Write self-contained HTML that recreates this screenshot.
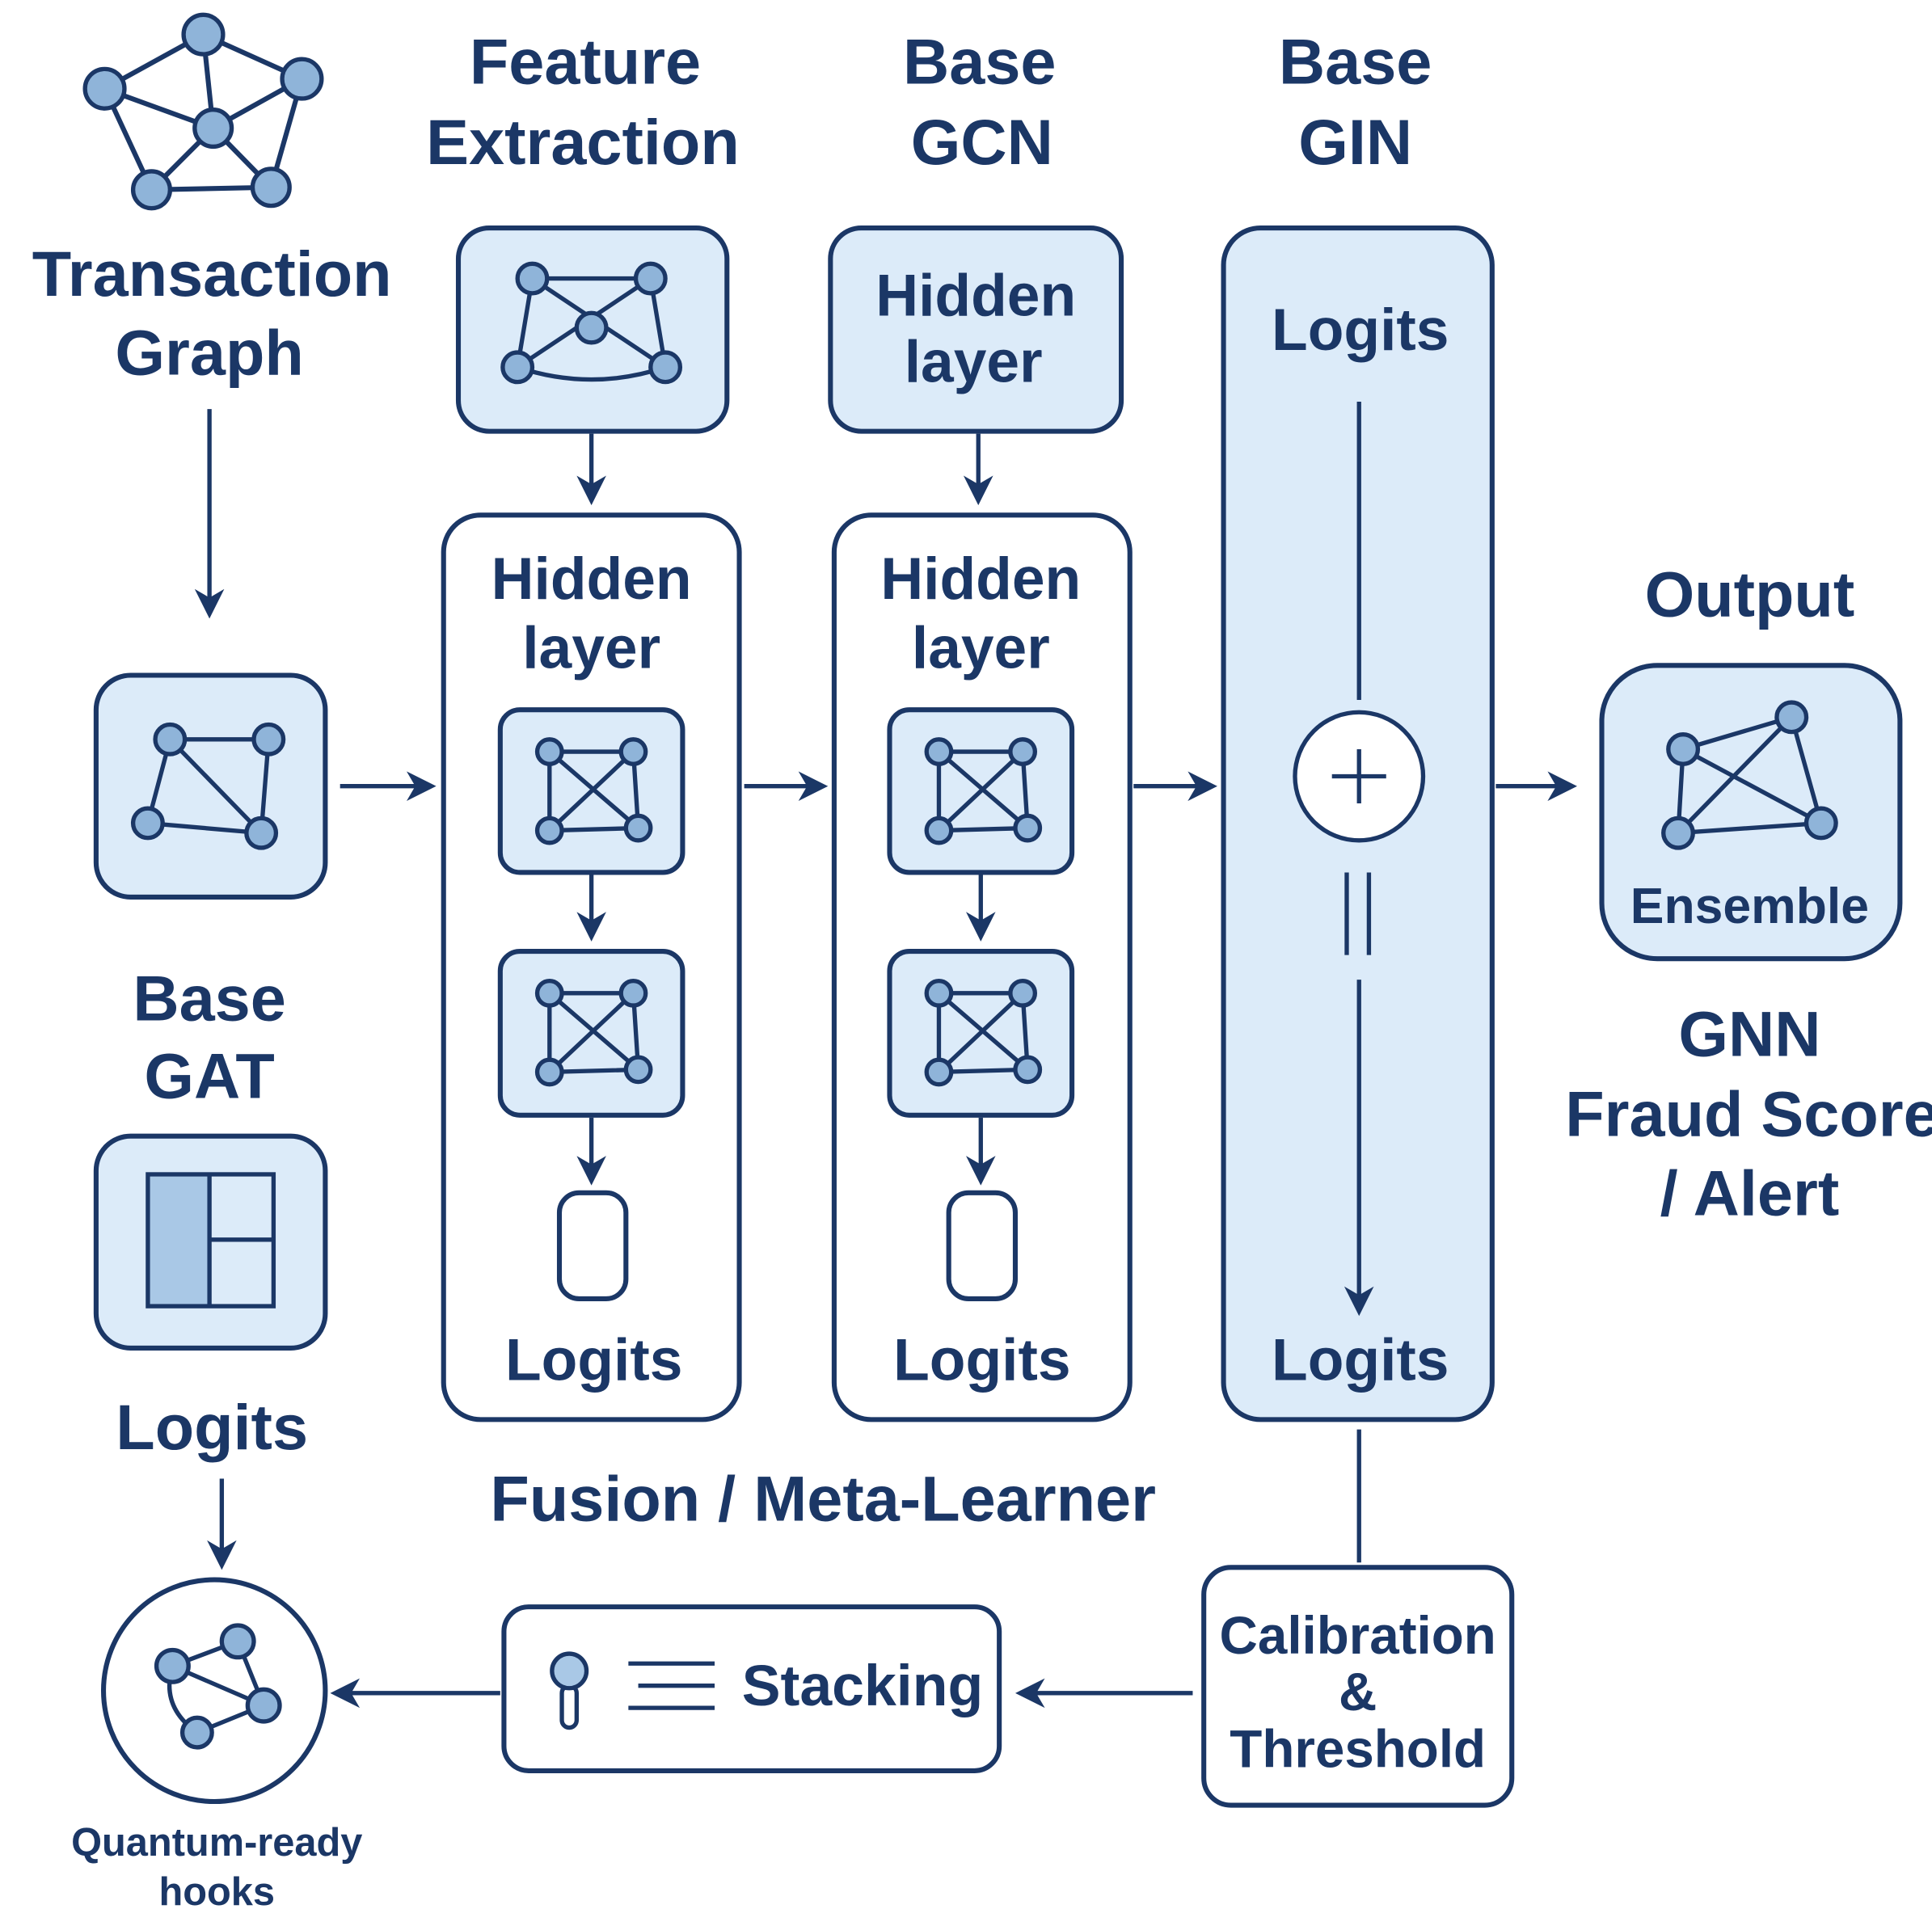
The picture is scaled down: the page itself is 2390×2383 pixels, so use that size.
<!DOCTYPE html>
<html><head><meta charset="utf-8"><style>html,body{margin:0;padding:0;background:#fff}svg{display:block}</style></head>
<body>
<svg width="2390" height="2383" viewBox="0 0 1568 1563" preserveAspectRatio="none" xmlns="http://www.w3.org/2000/svg" font-family="Liberation Sans, sans-serif" fill="#1b3766">
<defs>
<marker id="b" markerWidth="24" markerHeight="24" refX="20" refY="12" orient="auto" markerUnits="userSpaceOnUse" viewBox="0 0 24 24"><path d="M0,0 L24,12 L0,24 L7,12 z" fill="#1b3766"/></marker>
</defs>
<g stroke="#1b3766" stroke-width="4" fill="none">
<g stroke-width="4">
<line x1="165" y1="28" x2="85" y2="72"/><line x1="165" y1="28" x2="245" y2="64"/><line x1="165" y1="28" x2="173" y2="104"/>
<line x1="85" y1="72" x2="123" y2="154"/><line x1="245" y1="64" x2="220" y2="152"/><line x1="123" y1="154" x2="220" y2="152"/>
<line x1="173" y1="104" x2="123" y2="154"/><line x1="173" y1="104" x2="220" y2="152"/><line x1="85" y1="72" x2="173" y2="104"/><line x1="245" y1="64" x2="173" y2="104"/>
</g>
<line x1="170" y1="332" x2="170" y2="498" stroke-width="3.5" marker-end="url(#b)"/>
<rect x="78" y="548" width="186" height="180" rx="28" fill="#dcebf9"/>
<path d="M138,600 L218,600 L212,676 L120,668 Z M138,600 L212,676" stroke-width="3.5"/>
<rect x="78" y="922" width="186" height="172" rx="28" fill="#dcebf9"/>
<rect x="120" y="953" width="50" height="107" fill="#a9c8e6" stroke="none"/>
<rect x="120" y="953" width="102" height="107" stroke-width="3.5"/>
<line x1="170" y1="953" x2="170" y2="1060" stroke-width="3.5"/><line x1="170" y1="1006" x2="222" y2="1006" stroke-width="3.5"/>
<line x1="180" y1="1200" x2="180" y2="1270" stroke-width="3.5" marker-end="url(#b)"/>
<circle cx="174" cy="1372" r="90" fill="#fff"/>
<path d="M140,1352 L193,1332 L214,1384 L160,1406 Q130,1385 140,1352 M140,1352 L214,1384" stroke-width="3.5"/>

<rect x="372" y="185" width="218" height="165" rx="25" fill="#dcebf9"/>
<path d="M432,226 L528,226 L540,298 Q480,318 420,298 Z M432,226 L540,298 M528,226 L420,298" stroke-width="3.5"/>
<line x1="480" y1="352" x2="480" y2="406" stroke-width="3.5" marker-end="url(#b)"/>
<rect x="360" y="418" width="240" height="734" rx="30" fill="#fff"/>
<rect x="406" y="576" width="148" height="132" rx="16" fill="#dcebf9"/>
<path d="M446,610 L514,610 L518,672 L446,674 Z M446,610 L518,672 M514,610 L446,674" stroke-width="3.5"/>
<line x1="480" y1="710" x2="480" y2="760" stroke-width="3.5" marker-end="url(#b)"/>
<rect x="406" y="772" width="148" height="133" rx="16" fill="#dcebf9"/>
<path d="M446,806 L514,806 L518,868 L446,870 Z M446,806 L518,868 M514,806 L446,870" stroke-width="3.5"/>
<line x1="480" y1="907" x2="480" y2="958" stroke-width="3.5" marker-end="url(#b)"/>
<rect x="454" y="968" width="54" height="86" rx="16" fill="#fff"/>

<rect x="674" y="185" width="236" height="165" rx="25" fill="#dcebf9"/>
<line x1="794" y1="352" x2="794" y2="406" stroke-width="3.5" marker-end="url(#b)"/>
<rect x="677" y="418" width="240" height="734" rx="30" fill="#fff"/>
<rect x="722" y="576" width="148" height="132" rx="16" fill="#dcebf9"/>
<path d="M762,610 L830,610 L834,672 L762,674 Z M762,610 L834,672 M830,610 L762,674" stroke-width="3.5"/>
<line x1="796" y1="710" x2="796" y2="760" stroke-width="3.5" marker-end="url(#b)"/>
<rect x="722" y="772" width="148" height="133" rx="16" fill="#dcebf9"/>
<path d="M762,806 L830,806 L834,868 L762,870 Z M762,806 L834,868 M830,806 L762,870" stroke-width="3.5"/>
<line x1="796" y1="907" x2="796" y2="958" stroke-width="3.5" marker-end="url(#b)"/>
<rect x="770" y="968" width="54" height="86" rx="16" fill="#fff"/>

<rect x="993" y="185" width="218" height="967" rx="30" fill="#dcebf9"/>
<line x1="1103" y1="326" x2="1103" y2="568" stroke-width="3.5"/>
<circle cx="1103" cy="630" r="52" fill="#fff" stroke-width="3.5"/>
<line x1="1103" y1="608" x2="1103" y2="652" stroke-width="3.5"/><line x1="1081" y1="630" x2="1125" y2="630" stroke-width="3.5"/>
<line x1="1093" y1="708" x2="1093" y2="775" stroke-width="3.5"/><line x1="1111" y1="708" x2="1111" y2="775" stroke-width="3.5"/>
<line x1="1103" y1="795" x2="1103" y2="1064" stroke-width="3.5" marker-end="url(#b)"/>

<line x1="276" y1="638" x2="350" y2="638" stroke-width="3.5" marker-end="url(#b)"/>
<line x1="604" y1="638" x2="668" y2="638" stroke-width="3.5" marker-end="url(#b)"/>
<line x1="920" y1="638" x2="984" y2="638" stroke-width="3.5" marker-end="url(#b)"/>
<line x1="1214" y1="638" x2="1276" y2="638" stroke-width="3.5" marker-end="url(#b)"/>

<rect x="1300" y="540" width="242" height="238" rx="45" fill="#dcebf9"/>
<path d="M1366,608 L1454,582 L1478,668 L1362,676 Z M1366,608 L1478,668 M1454,582 L1362,676" stroke-width="3.5"/>

<line x1="1103" y1="1160" x2="1103" y2="1268" stroke-width="3.5"/>
<rect x="977" y="1272" width="250" height="193" rx="22" fill="#fff"/>
<line x1="968" y1="1374" x2="828" y2="1374" stroke-width="3.5" marker-end="url(#b)"/>
<rect x="409" y="1304" width="402" height="133" rx="20" fill="#fff"/>
<line x1="406" y1="1374" x2="272" y2="1374" stroke-width="3.5" marker-end="url(#b)"/>
<rect x="456" y="1368" width="12" height="34" rx="6" stroke-width="3.5"/>
<circle cx="462" cy="1356" r="14" fill="#a9c8e6" stroke-width="3.5"/>
<line x1="510" y1="1350" x2="580" y2="1350" stroke-width="3.5"/>
<line x1="518" y1="1368" x2="580" y2="1368" stroke-width="3.5"/>
<line x1="510" y1="1386" x2="580" y2="1386" stroke-width="3.5"/>
</g>

<g fill="#8fb4d9" stroke="#1b3766" stroke-width="3.5">
<circle cx="165" cy="28" r="16"/><circle cx="85" cy="72" r="16"/><circle cx="245" cy="64" r="16"/><circle cx="173" cy="104" r="15"/><circle cx="123" cy="154" r="15"/><circle cx="220" cy="152" r="15"/>
<circle cx="138" cy="600" r="12"/><circle cx="218" cy="600" r="12"/><circle cx="120" cy="668" r="12"/><circle cx="212" cy="676" r="12"/>
<circle cx="140" cy="1352" r="13"/><circle cx="193" cy="1332" r="13"/><circle cx="214" cy="1384" r="13"/><circle cx="160" cy="1406" r="12"/>
<circle cx="432" cy="226" r="12"/><circle cx="528" cy="226" r="12"/><circle cx="480" cy="266" r="12"/><circle cx="420" cy="298" r="12"/><circle cx="540" cy="298" r="12"/>
<circle cx="446" cy="610" r="10"/><circle cx="514" cy="610" r="10"/><circle cx="446" cy="674" r="10"/><circle cx="518" cy="672" r="10"/>
<circle cx="446" cy="806" r="10"/><circle cx="514" cy="806" r="10"/><circle cx="446" cy="870" r="10"/><circle cx="518" cy="868" r="10"/>
<circle cx="762" cy="610" r="10"/><circle cx="830" cy="610" r="10"/><circle cx="762" cy="674" r="10"/><circle cx="834" cy="672" r="10"/>
<circle cx="762" cy="806" r="10"/><circle cx="830" cy="806" r="10"/><circle cx="762" cy="870" r="10"/><circle cx="834" cy="868" r="10"/>
<circle cx="1366" cy="608" r="12"/><circle cx="1454" cy="582" r="12"/><circle cx="1362" cy="676" r="12"/><circle cx="1478" cy="668" r="12"/>
</g>

<g text-anchor="middle" font-size="52" font-weight="bold">
<text x="172" y="240">Transaction</text><text x="170" y="304">Graph</text>
<text x="475" y="68">Feature</text><text x="473" y="133">Extraction</text>
<text x="795" y="68">Base</text><text x="797" y="133">GCN</text>
<text x="1100" y="68">Base</text><text x="1100" y="133">GIN</text>
<text x="170" y="828">Base</text><text x="170" y="891">GAT</text>
<text x="172" y="1176">Logits</text>
<text x="480" y="486" font-size="48">Hidden</text><text x="480" y="542" font-size="48">layer</text>
<text x="796" y="486" font-size="48">Hidden</text><text x="796" y="542" font-size="48">layer</text>
<text x="792" y="256" font-size="48">Hidden</text><text x="790" y="310" font-size="48">layer</text>
<text x="482" y="1120" font-size="48">Logits</text><text x="797" y="1120" font-size="48">Logits</text>
<text x="1104" y="284" font-size="48">Logits</text><text x="1104" y="1120" font-size="48">Logits</text>
<text x="1420" y="500">Output</text>
<text x="1420" y="749" font-size="41">Ensemble</text>
<text x="1420" y="857">GNN</text><text x="1422" y="922">Fraud Score</text><text x="1420" y="986">/ Alert</text>
<text x="668" y="1234">Fusion / Meta-Learner</text>
<text x="1102" y="1342" font-size="43">Calibration</text><text x="1102" y="1388" font-size="43">&amp;</text><text x="1102" y="1434" font-size="43">Threshold</text>
<text x="700" y="1384" font-size="47">Stacking</text>
<text x="176" y="1506" font-size="32">Quantum-ready</text><text x="176" y="1546" font-size="32">hooks</text>
</g>
</svg>
</body></html>
